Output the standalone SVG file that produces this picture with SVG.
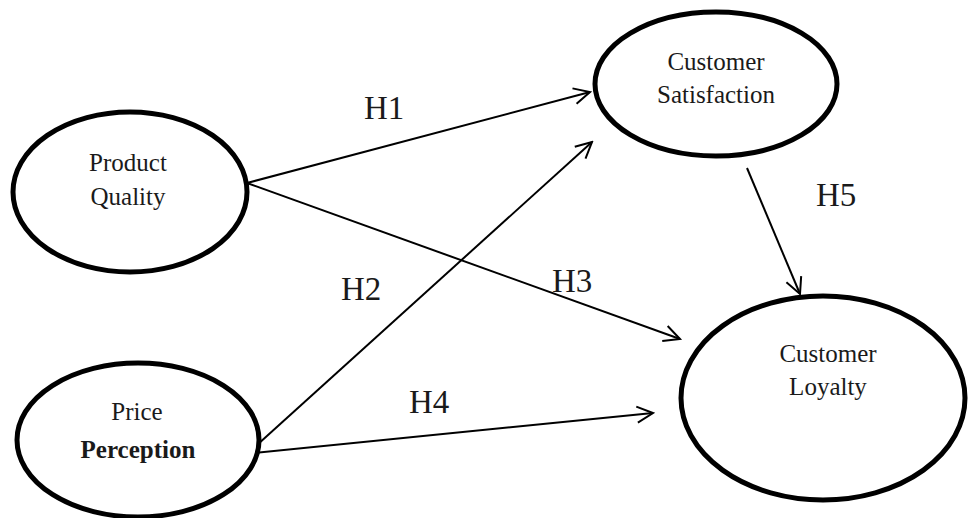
<svg xmlns="http://www.w3.org/2000/svg" width="968" height="518" viewBox="0 0 968 518">
<style>
.node{fill:#fff;stroke:#000;stroke-width:5}
.lbl{font-family:"Liberation Serif","Times New Roman",serif;font-size:25px;fill:#1a1a1a;text-anchor:middle}
.b{font-weight:bold}
.h{font-family:"Liberation Serif","Times New Roman",serif;font-size:33px;fill:#1a1a1a}
.edge{stroke:#000;stroke-width:2;fill:none;marker-end:url(#arr)}
</style>
<defs>
<marker id="arr" viewBox="0 0 20 20" refX="18" refY="10" markerWidth="20" markerHeight="20" markerUnits="userSpaceOnUse" orient="auto">
<path d="M2,2 L18,10 L2,18" fill="none" stroke="#000" stroke-width="2"/>
</marker>
</defs>
<rect width="968" height="518" fill="#fff"/>
<g id="connectors">
<line class="edge" x1="247" y1="183" x2="590" y2="92"/>
<line class="edge" x1="247" y1="183" x2="680" y2="339"/>
<line class="edge" x1="257" y1="445" x2="592" y2="142"/>
<line class="edge" x1="253" y1="453" x2="653" y2="413"/>
<line class="edge" x1="747" y1="168" x2="800" y2="294"/>
<text class="h" x="364" y="119">H1</text>
<text class="h" x="341" y="300">H2</text>
<text class="h" x="552" y="292">H3</text>
<text class="h" x="409" y="413">H4</text>
<text class="h" x="816" y="206">H5</text>
</g>
<g id="product-quality">
<ellipse class="node" cx="130" cy="192" rx="117" ry="80"/>
<text class="lbl" x="128" y="171">Product</text>
<text class="lbl" x="128" y="205">Quality</text>
</g>
<g id="price-perception">
<ellipse class="node" cx="138" cy="440" rx="121" ry="77"/>
<text class="lbl" x="137" y="420">Price</text>
<text class="lbl b" x="138" y="458">Perception</text>
</g>
<g id="customer-satisfaction">
<ellipse class="node" cx="716" cy="84" rx="121" ry="72"/>
<text class="lbl" x="716" y="70">Customer</text>
<text class="lbl" x="716" y="103">Satisfaction</text>
</g>
<g id="customer-loyalty">
<ellipse class="node" cx="823" cy="398" rx="142" ry="102"/>
<text class="lbl" x="828" y="362">Customer</text>
<text class="lbl" x="828" y="395">Loyalty</text>
</g>
</svg>
